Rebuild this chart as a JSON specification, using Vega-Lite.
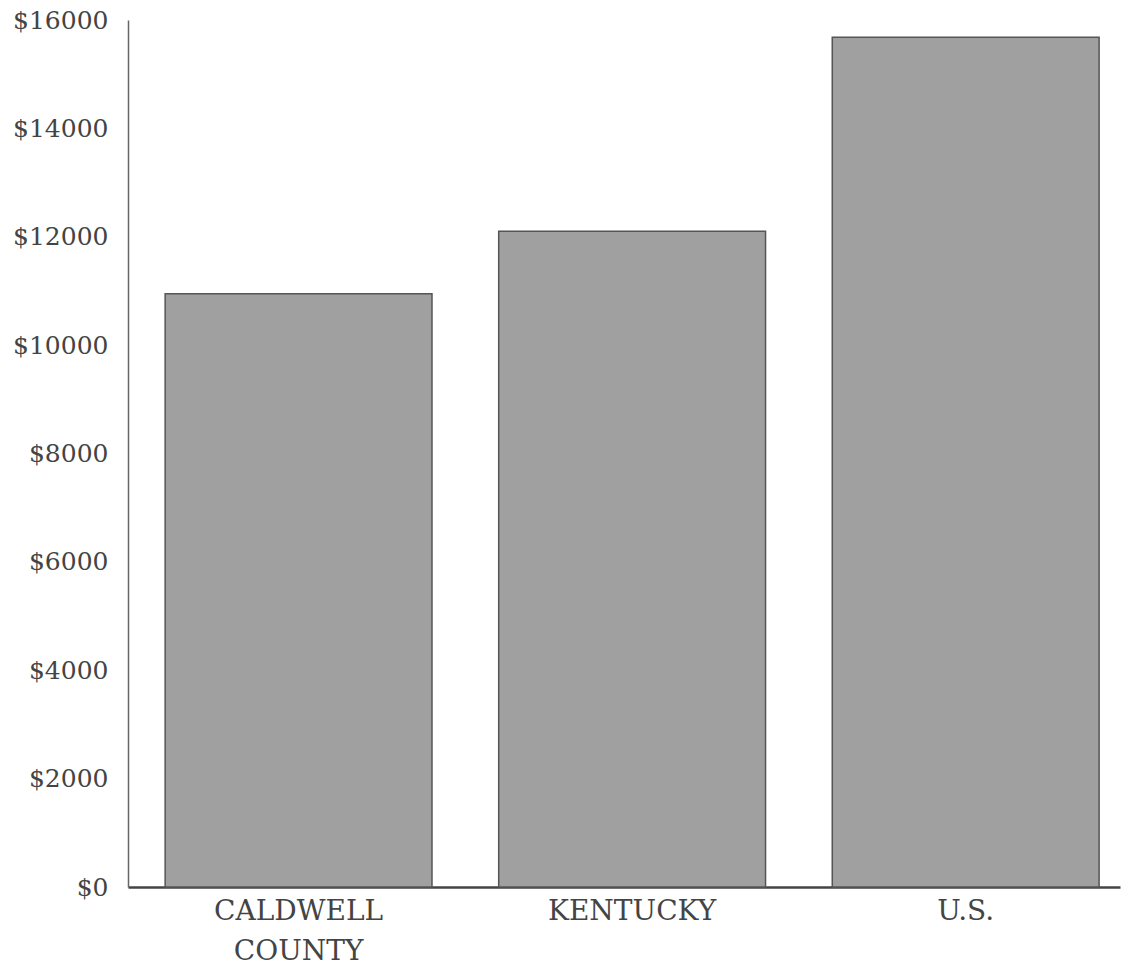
{
  "$schema": "https://vega.github.io/schema/vega-lite/v6.json",
  "autosize": "none",
  "width": 992,
  "height": 867,
  "padding": {"left": 128, "top": 20, "right": 3, "bottom": 85},
  "background": "white",
  "data": {"values": [
    {"area": "CALDWELL COUNTY", "income": 10950},
    {"area": "KENTUCKY", "income": 12100},
    {"area": "U.S.", "income": 15680}
  ]},
  "mark": {"type": "bar", "fill": "#a0a0a0", "stroke": "#555555", "strokeWidth": 1.5},
  "encoding": {
    "x": {
      "field": "area", "type": "nominal", "sort": null,
      "scale": {"paddingInner": 0.2, "paddingOuter": 0.087, "align": 0.64},
      "axis": {
        "title": null, "labelAngle": 0, "ticks": false,
        "domainColor": "#444444", "domainWidth": 2.5,
        "labelFont": "DejaVu Serif", "labelFontSize": 28, "labelColor": "#444444",
        "labelPadding": 10, "labelLineHeight": 40,
        "labelExpr": "datum.label == 'CALDWELL COUNTY' ? ['CALDWELL', 'COUNTY'] : datum.label"
      }
    },
    "y": {
      "field": "income", "type": "quantitative",
      "scale": {"domain": [0, 16000], "nice": false},
      "axis": {
        "title": null, "ticks": false, "grid": false,
        "values": [0, 2000, 4000, 6000, 8000, 10000, 12000, 14000, 16000],
        "labelExpr": "'$' + datum.value",
        "domainColor": "#666666", "domainWidth": 1.5,
        "labelFont": "DejaVu Serif", "labelFontSize": 25, "labelColor": "#444444",
        "labelPadding": 20
      }
    }
  },
  "config": {"view": {"stroke": null}}
}
